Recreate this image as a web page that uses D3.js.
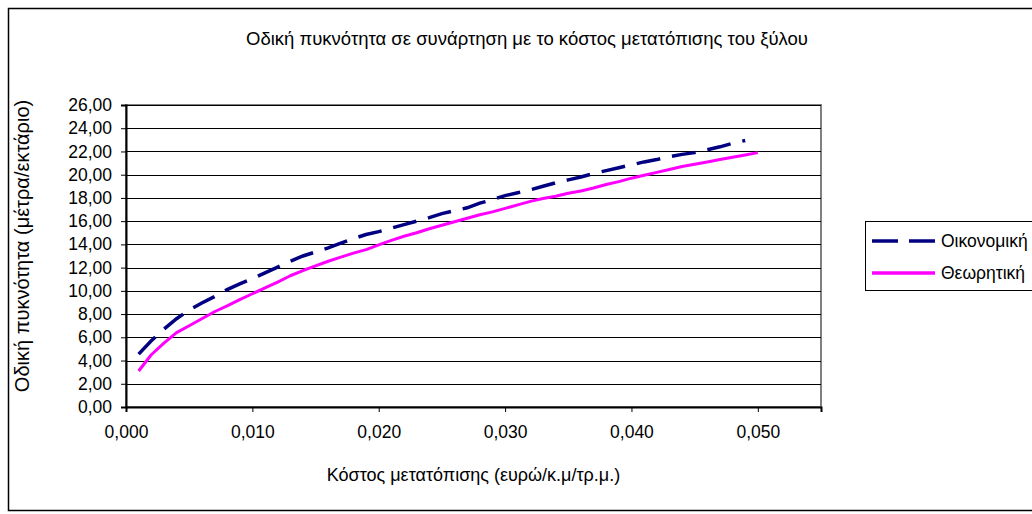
<!DOCTYPE html>
<html><head><meta charset="utf-8">
<script src="https://cdn.jsdelivr.net/npm/d3@7"></script>
<style>
html,body{margin:0;padding:0;background:#fff;}
svg{display:block;font-family:"Liberation Sans",Arial,sans-serif;}
</style></head>
<body>
<svg id="c" width="1032" height="514"></svg>
<script>
const title = "Οδική πυκνότητα σε συνάρτηση με το κόστος μετατόπισης του ξύλου";
const xTitle = "Κόστος μετατόπισης (ευρώ/κ.μ/τρ.μ.)";
const yTitle = "Οδική πυκνότητα (μέτρα/εκτάριο)";
const seriesNames = ["Οικονομική", "Θεωρητική"];
const xTicks = [0, 0.01, 0.02, 0.03, 0.04, 0.05];
const yTicks = [0,2,4,6,8,10,12,14,16,18,20,22,24,26];

const costEcon = [0.001,0.002,0.003,0.004,0.005,0.006,0.007,0.008,0.009,0.010,
  0.011,0.012,0.013,0.014,0.015,0.016,0.017,0.018,0.019,0.020,
  0.021,0.022,0.023,0.024,0.025,0.026,0.027,0.028,0.029,0.030,
  0.031,0.032,0.033,0.034,0.035,0.036,0.037,0.038,0.039,0.040,
  0.041,0.042,0.043,0.044,0.045,0.046,0.047,0.048,0.049];
const densityEcon = [4.55,5.7,6.7,7.6,8.35,8.95,9.5,10.1,10.6,11.05,
  11.55,12.05,12.55,13.0,13.35,13.7,14.1,14.5,14.85,15.1,
  15.4,15.7,16.0,16.3,16.65,16.9,17.15,17.55,17.85,18.2,
  18.45,18.7,19.0,19.3,19.55,19.8,20.1,20.35,20.6,20.85,
  21.1,21.3,21.55,21.75,21.9,22.15,22.4,22.7,22.95];

const costTheo = [0.001,0.002,0.003,0.004,0.005,0.006,0.007,0.008,0.009,0.010,
  0.011,0.012,0.013,0.014,0.015,0.016,0.017,0.018,0.019,0.020,
  0.021,0.022,0.023,0.024,0.025,0.026,0.027,0.028,0.029,0.030,
  0.031,0.032,0.033,0.034,0.035,0.036,0.037,0.038,0.039,0.040,
  0.041,0.042,0.043,0.044,0.045,0.046,0.047,0.048,0.049,0.050];
const densityTheo = [3.1,4.5,5.5,6.4,7.0,7.6,8.2,8.7,9.25,9.75,
  10.25,10.75,11.3,11.75,12.15,12.55,12.9,13.25,13.55,13.95,
  14.35,14.7,15.0,15.35,15.65,15.95,16.25,16.55,16.8,17.1,
  17.4,17.7,17.95,18.15,18.4,18.6,18.85,19.15,19.4,19.7,
  19.95,20.2,20.45,20.7,20.9,21.1,21.3,21.5,21.7,21.9];

const svg = d3.select("#c");
const L = 126, R = 821, T = 105, B = 407;
const x = d3.scaleLinear().domain([0, 0.055]).range([L, R]);
const y = d3.scaleLinear().domain([0, 26]).range([B, T]);
const fmtComma = (d, n) => d.toFixed(n).replace(".", ",");
const FF = "Liberation Sans, Arial, sans-serif";

// outer border
svg.append("rect").attr("x", 8.5).attr("y", 8.5).attr("width", 1040).attr("height", 502)
  .attr("fill", "#fff").attr("stroke", "#000").attr("stroke-width", 1.5);

// plot area border
svg.append("rect").attr("x", L).attr("y", T).attr("width", R - L).attr("height", B - T)
  .attr("fill", "none").attr("stroke", "#808080").attr("stroke-width", 2);

// gridlines
svg.append("g").selectAll("line").data(yTicks.filter(d => d > 0)).join("line")
  .attr("x1", L).attr("x2", R).attr("y1", d => Math.round(y(d)) + 0.5).attr("y2", d => Math.round(y(d)) + 0.5)
  .attr("stroke", "#000").attr("stroke-width", 1);

// axes
const xAxis = d3.axisBottom(x).tickValues(xTicks).tickSize(5).tickPadding(14)
  .tickFormat(d => fmtComma(d, 3));
const gx = svg.append("g").attr("transform", `translate(0,${B})`).call(xAxis);
gx.select(".domain").attr("stroke", "#000").attr("stroke-width", 2);
gx.selectAll(".tick line").attr("stroke", "#000");
gx.selectAll("text").attr("font-size", 17.5).attr("fill", "#000").attr("font-family", FF);

const yAxis = d3.axisLeft(y).tickValues(yTicks).tickSize(5).tickPadding(9)
  .tickFormat(d => fmtComma(d, 2));
const gy = svg.append("g").attr("transform", `translate(${L},0)`).call(yAxis);
gy.select(".domain").attr("stroke", "#000").attr("stroke-width", 2);
gy.selectAll(".tick line").attr("stroke", "#000");
gy.selectAll("text").attr("font-size", 17.5).attr("fill", "#000").attr("font-family", FF);

// lines
const line = d3.line().x(d => x(d[0])).y(d => y(d[1]));
svg.append("path").datum(costTheo.map((c, i) => [c, densityTheo[i]]))
  .attr("d", line).attr("fill", "none").attr("stroke", "#FF00FF").attr("stroke-width", 3)
  .attr("stroke-linejoin", "round");
svg.append("path").datum(costEcon.map((c, i) => [c, densityEcon[i]]))
  .attr("d", line).attr("fill", "none").attr("stroke", "#000080").attr("stroke-width", 3.5)
  .attr("stroke-dasharray", "24,12");

// titles
svg.append("text").attr("x", 527).attr("y", 45).attr("text-anchor", "middle")
  .attr("font-size", 18.5).text(title);
svg.append("text").attr("x", (L + R) / 2).attr("y", 481).attr("text-anchor", "middle")
  .attr("font-size", 18).text(xTitle);
svg.append("text").attr("transform", `translate(29,246) rotate(-90)`)
  .attr("text-anchor", "middle").attr("font-size", 20).text(yTitle);

// legend
const lg = svg.append("g");
lg.append("rect").attr("x", 865.5).attr("y", 221.5).attr("width", 200).attr("height", 69)
  .attr("fill", "#fff").attr("stroke", "#000").attr("stroke-width", 1);
const legY = [241, 273];
const legColors = ["#000080", "#FF00FF"];
const legDash = ["26,11", null];
seriesNames.forEach((n, i) => {
  lg.append("line").attr("x1", 872).attr("x2", 935).attr("y1", legY[i]).attr("y2", legY[i])
    .attr("stroke", legColors[i]).attr("stroke-width", 3.5)
    .attr("stroke-dasharray", legDash[i]);
  lg.append("text").attr("x", 941).attr("y", legY[i] + 6).attr("font-size", 17.5).text(n);
});
</script>
</body></html>
